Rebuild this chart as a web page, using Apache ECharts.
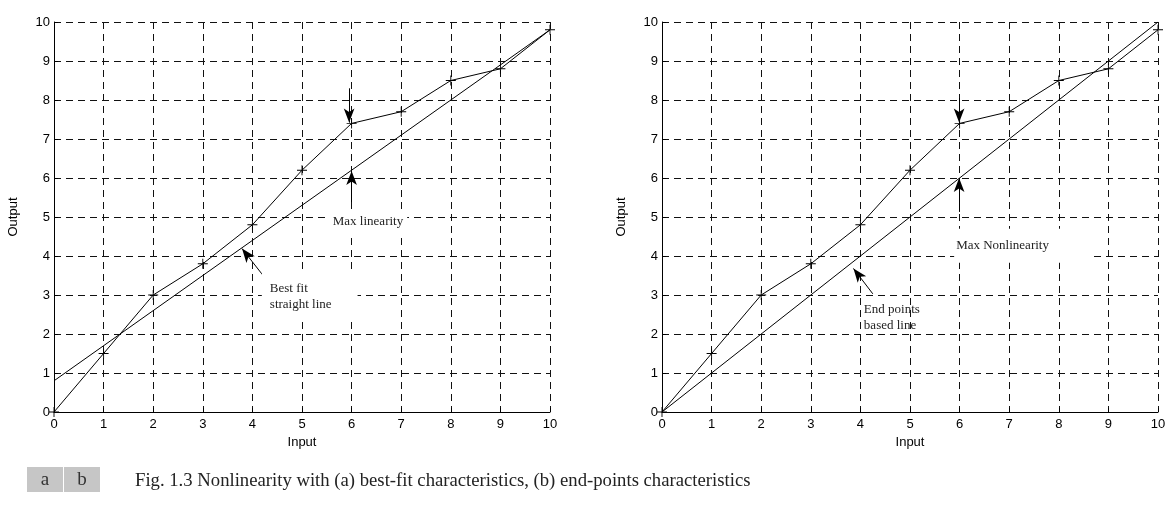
<!DOCTYPE html>
<html>
<head>
<meta charset="utf-8">
<script src="https://cdn.jsdelivr.net/npm/echarts@6/dist/echarts.min.js"></script>
<style>
  html, body { margin: 0; padding: 0; background: #fff; }
  #chart { width: 1169px; height: 511px; }
</style>
</head>
<body>
<div id="chart"></div>
<script>
// Sensor input values (x) and the measured output at each input
const inputs = [0, 1, 2, 3, 4, 5, 6, 7, 8, 9, 10];
const measured = [0, 1.5, 3, 3.8, 4.8, 6.2, 7.4, 7.7, 8.5, 8.8, 9.8];

// Reference straight lines: (a) best-fit, (b) through the end points
const bestFitLine = [[0, 0.8], [10, 9.8]];
const endPointLine = [[0, 0], [10, 10]];

// Axis ticks
const axisTicks = [0, 1, 2, 3, 4, 5, 6, 7, 8, 9, 10];

// Arrows marking the largest deviation, and the pointer to each reference line
const arrowsA = [
  [[5.95, 8.3], [5.95, 7.42]],
  [[6.0, 5.38], [6.0, 6.18]],
  [[4.21, 3.51], [3.79, 4.19]]
];
const arrowsB = [
  [[5.99, 8.05], [5.99, 7.42]],
  [[5.99, 5.13], [5.99, 6.0]],
  [[4.25, 3.03], [3.86, 3.68]]
];

const curve = inputs.map((x, i) => [x, measured[i]]);

const plusSymbol = 'path://M4.55,0H5.45V4.55H10V5.45H5.45V10H4.55V5.45H0V4.55H4.55Z';
const serif = '"Liberation Serif", "Times New Roman", serif';
const sans = '"Liberation Sans", Arial, sans-serif';

function xAxisFor(gridIndex) {
  return {
    type: 'value', gridIndex, min: 0, max: 10, interval: 1,
    name: 'Input', nameLocation: 'middle', nameGap: 24,
    nameTextStyle: { fontFamily: sans, fontSize: 13, color: '#000' },
    axisLine: { show: true, onZero: false, lineStyle: { color: '#000', width: 1 } },
    axisTick: { show: true, inside: true, length: 4, lineStyle: { color: '#000' } },
    axisLabel: { fontFamily: sans, fontSize: 13, color: '#000', margin: 6,
      formatter: v => axisTicks.includes(v) ? String(v) : '' },
    splitLine: { show: true, lineStyle: { color: '#111', width: 1, type: [7, 5] } }
  };
}
function yAxisFor(gridIndex) {
  return {
    type: 'value', gridIndex, min: 0, max: 10, interval: 1,
    name: 'Output', nameLocation: 'middle', nameGap: 34, nameRotate: 90,
    nameTextStyle: { fontFamily: sans, fontSize: 13, color: '#000' },
    axisLine: { show: true, onZero: false, lineStyle: { color: '#000', width: 1 } },
    axisTick: { show: true, inside: true, length: 4, lineStyle: { color: '#000' } },
    axisLabel: { fontFamily: sans, fontSize: 13, color: '#000', margin: 4,
      formatter: v => axisTicks.includes(v) ? String(v) : '' },
    splitLine: { show: true, lineStyle: { color: '#111', width: 1, type: [7, 5] } }
  };
}

function arrowMarks(list) {
  return {
    silent: true, symbol: ['none', 'arrow'], symbolSize: [8, 14],
    label: { show: false },
    lineStyle: { color: '#000', width: 1, type: 'solid' },
    emphasis: { disabled: true },
    data: list.map(([a, b]) => [{ coord: a }, { coord: b }])
  };
}

function textMark(coord, text, pad, bg) {
  return {
    coord, symbol: 'rect', symbolSize: 0,
    label: {
      show: true, position: 'inside', align: 'left', verticalAlign: 'middle',
      formatter: text, fontFamily: serif, fontSize: 13, lineHeight: 16, color: '#222',
      backgroundColor: bg ? '#fff' : 'transparent', padding: pad
    }
  };
}

function curveSeries(xi, marks, texts) {
  return {
    type: 'line', xAxisIndex: xi, yAxisIndex: xi, data: curve,
    symbol: plusSymbol, symbolSize: 10, showSymbol: true,
    itemStyle: { color: '#000' },
    lineStyle: { color: '#000', width: 1 },
    markLine: arrowMarks(marks),
    markPoint: { silent: true, data: texts },
    z: 3
  };
}
function straightSeries(xi, data) {
  return {
    type: 'line', xAxisIndex: xi, yAxisIndex: xi, data,
    symbol: 'none', lineStyle: { color: '#000', width: 1 }, z: 3
  };
}

const chart = echarts.init(document.getElementById('chart'), null, { renderer: 'canvas' });
chart.setOption({
  animation: false,
  backgroundColor: '#fff',
  grid: [
    { left: 54, top: 22, width: 496, height: 390 },
    { left: 662, top: 22, width: 496, height: 390 }
  ],
  xAxis: [xAxisFor(0), xAxisFor(1)],
  yAxis: [yAxisFor(0), yAxisFor(1)],
  series: [
    curveSeries(0, arrowsA, [
      textMark([5.54, 4.87], 'Max linearity', [3, 4, 3, 4], true),
      textMark([4.19, 2.96], 'Best fit\nstraight line', [10, 26, 6, 8], true)
    ]),
    straightSeries(0, bestFitLine),
    curveSeries(1, arrowsB, [
      textMark([5.89, 4.26], 'Max Nonlinearity', [8, 42, 10, 2], true),
      textMark([4.07, 2.41], 'End points\nbased line', [0, 0, 0, 0], false)
    ]),
    straightSeries(1, endPointLine)
  ],
  graphic: [
    { type: 'rect', left: 27, top: 467, shape: { width: 36, height: 25 }, style: { fill: '#c6c6c6' } },
    { type: 'rect', left: 64, top: 467, shape: { width: 36, height: 25 }, style: { fill: '#c6c6c6' } },
    { type: 'text', x: 45, y: 480, style: { text: 'a', font: '19px ' + serif, fill: '#333', align: 'center', verticalAlign: 'middle' } },
    { type: 'text', x: 82, y: 480, style: { text: 'b', font: '19px ' + serif, fill: '#333', align: 'center', verticalAlign: 'middle' } },
    { type: 'text', x: 135, y: 481, style: {
      text: 'Fig. 1.3 Nonlinearity with (a) best-fit characteristics, (b) end-points characteristics',
      font: '18.7px ' + serif, fill: '#222', verticalAlign: 'middle' } }
  ]
});
</script>
</body>
</html>
